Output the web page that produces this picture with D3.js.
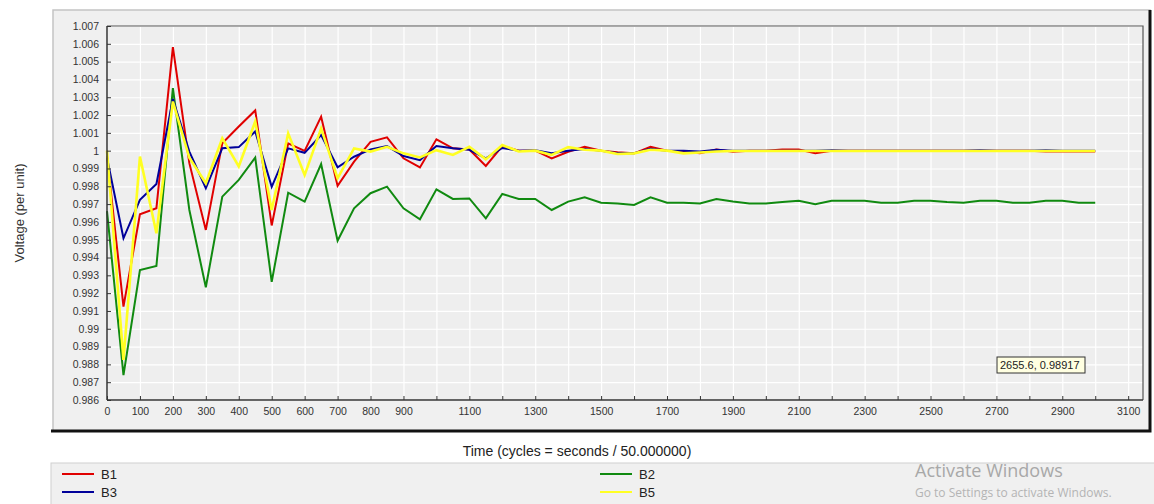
<!DOCTYPE html>
<html>
<head>
<meta charset="utf-8">
<script src="https://cdn.jsdelivr.net/npm/d3@7"></script>
<style>
  body { margin: 0; background: #fff; }
  svg { display: block; font-family: Arial, "Liberation Sans", sans-serif; }
</style>
</head>
<body>
<svg id="chart"></svg>
<script>
const width = 1154;
const height = 504;

// temps en cycles, un point tous les 50
const times = d3.range(0, 3001, 50);

// valeurs (per unit)
const b1 = [0.9997, 0.99124, 0.99643, 0.99677, 1.00581, 0.9993, 0.99555, 1.00042, 1.00136, 1.00226,
  0.99580, 1.00041, 0.99999, 1.00191, 0.99802, 0.99938, 1.00050, 1.00075, 0.99957, 0.99906,
  1.00064, 1.00013, 1.00007, 0.99914, 1.00026, 1.0, 1.0, 0.99957, 0.99994, 1.00022,
  1.0, 0.99991, 0.99985, 1.00022, 1.0, 0.99996, 0.99985, 1.00007, 0.99994, 1.0,
  1.0, 1.00007, 1.00007, 0.99985, 1.0, 1.0, 1.0, 1.0, 1.0, 1.0,
  1.0, 1.0, 1.0, 1.0, 1.0, 1.0, 1.0, 0.99996, 0.99996, 0.99996, 0.99996];

const b2 = [0.9966, 0.9874, 0.99330, 0.99353, 1.00351, 0.99667, 0.99233, 0.99742, 0.99836, 0.99961,
  0.99263, 0.99764, 0.99714, 0.99925, 0.99494, 0.99676, 0.99761, 0.99798, 0.99676, 0.99615,
  0.99783, 0.99729, 0.99732, 0.99620, 0.99757, 0.99729, 0.99729, 0.99667, 0.99714, 0.99738,
  0.99708, 0.99704, 0.99695, 0.99738, 0.99708, 0.99708, 0.99704, 0.99729, 0.99714, 0.99704,
  0.99704, 0.99712, 0.99719, 0.99699, 0.99719, 0.99719, 0.99719, 0.99708, 0.99708, 0.99719,
  0.99719, 0.99712, 0.99708, 0.99719, 0.99719, 0.99708, 0.99708, 0.99719, 0.99719, 0.99708, 0.99708];

const b3 = [0.9996, 0.99508, 0.99724, 0.99813, 1.0029, 0.99995, 0.99789, 1.00014, 1.00020, 1.00108,
  0.99797, 1.00013, 0.99988, 1.00088, 0.99907, 0.99966, 1.00007, 1.00026, 0.99970, 0.99947,
  1.00026, 1.00013, 1.00005, 0.99957, 1.00015, 1.0, 1.00002, 0.99985, 1.0, 1.00010,
  1.0, 0.99985, 0.99985, 1.00010, 1.0, 1.0, 0.99995, 1.00005, 1.0, 1.0,
  1.0, 1.0, 1.0, 1.0, 1.00003, 1.0, 1.0, 1.0, 1.0, 1.0,
  1.0, 1.0, 1.0, 1.00003, 1.0, 1.0, 1.0, 1.00003, 1.0, 1.0, 1.0];

const b5 = [1.0000, 0.98825, 0.99967, 0.99536, 1.00276, 0.9996, 0.99817, 1.00070, 0.99911, 1.00164,
  0.99667, 1.00097, 0.99863, 1.00125, 0.99845, 1.00013, 0.99995, 1.00022, 0.99985, 0.99962,
  1.00003, 0.99976, 1.00022, 0.99951, 1.00032, 0.99995, 1.0, 0.99976, 1.0002, 1.00005,
  1.0, 0.99981, 0.99985, 1.00005, 1.0, 0.99985, 0.99990, 0.99995, 0.99998, 0.99998,
  0.99998, 0.99998, 0.99998, 0.99998, 0.99998, 0.99998, 0.99998, 0.99998, 0.99998, 0.99998,
  0.99998, 0.99998, 0.99998, 0.99998, 0.99998, 0.99998, 0.99998, 0.99998, 0.99998, 0.99998, 0.99998];

const seriesNames = ["B1", "B2", "B3", "B5"];
const seriesColors = ["#e00000", "#108a10", "#00009a", "#ffff22"];
const seriesValues = [b1, b2, b3, b5];

const yTicks = d3.range(0, 22).map(i => +(0.986 + i * 0.001).toFixed(3));
const xTicks = d3.range(0, 3101, 100);

const svg = d3.select("#chart")
  .attr("width", width)
  .attr("height", height);

// panneau du graphique
const panel = { left: 53, top: 10, right: 1150, bottom: 431 };
svg.append("rect")
  .attr("x", panel.left).attr("y", panel.top)
  .attr("width", panel.right - panel.left).attr("height", panel.bottom - panel.top)
  .attr("fill", "#f0f0f0")
  .attr("stroke", "#c4c4c4")
  .attr("stroke-width", 1.5);
// ombre noire bas / droite
svg.append("path")
  .attr("d", `M${panel.left - 2},${panel.bottom} H${panel.right} V${panel.top}`)
  .attr("fill", "none")
  .attr("stroke", "#111")
  .attr("stroke-width", 3);

const plot = { left: 107, top: 26, right: 1143, bottom: 400 };

const x = d3.scaleLinear().domain([0, 3145]).range([plot.left, plot.right]);
const y = d3.scaleLinear().domain([0.986, 1.007]).range([plot.bottom, plot.top]);

svg.append("rect")
  .attr("x", plot.left).attr("y", plot.top)
  .attr("width", plot.right - plot.left).attr("height", plot.bottom - plot.top)
  .attr("fill", "#eeeeee");

// grille blanche
svg.append("g")
  .attr("transform", `translate(0,${plot.bottom})`)
  .call(d3.axisBottom(x).tickValues(xTicks).tickSize(-(plot.bottom - plot.top)).tickFormat(""))
  .call(g => g.select(".domain").remove())
  .call(g => g.selectAll("line").attr("stroke", "#ffffff").attr("stroke-width", 1.2));

svg.append("g")
  .attr("transform", `translate(${plot.left},0)`)
  .call(d3.axisLeft(y).tickValues(yTicks).tickSize(-(plot.right - plot.left)).tickFormat(""))
  .call(g => g.select(".domain").remove())
  .call(g => g.selectAll("line").attr("stroke", "#ffffff").attr("stroke-width", 1.2));

// bord haut et droit
svg.append("path")
  .attr("d", `M${plot.left},${plot.top} H${plot.right} V${plot.bottom}`)
  .attr("fill", "none")
  .attr("stroke", "#555")
  .attr("stroke-width", 1.2);

// courbes
const line = d3.line()
  .x((d, i) => x(times[i]))
  .y(d => y(d));

svg.append("g")
  .selectAll("path")
  .data(seriesValues)
  .join("path")
  .attr("d", line)
  .attr("fill", "none")
  .attr("stroke", (d, i) => seriesColors[i])
  .attr("stroke-width", (d, i) => i === 3 ? 2.6 : 2)
  .attr("stroke-linejoin", "miter");

// axes
const yAxis = svg.append("g")
  .attr("transform", `translate(${plot.left},0)`)
  .call(d3.axisLeft(y).tickValues(yTicks).tickSize(-4).tickPadding(8)
    .tickFormat(d => String(+d.toFixed(3))));

const xAxis = svg.append("g")
  .attr("transform", `translate(0,${plot.bottom})`)
  .call(d3.axisBottom(x).tickValues(xTicks).tickSize(-4).tickPadding(8)
    .tickFormat(d => (d <= 900 || (d / 100) % 2 === 1) ? d : ""));

[yAxis, xAxis].forEach(g => {
  g.select(".domain").attr("stroke", "#333").attr("stroke-width", 1.5);
  g.selectAll(".tick line").attr("stroke", "#333");
  g.selectAll(".tick text")
    .attr("fill", "#333")
    .style("font-size", "10.5px")
    .style("font-family", "Arial, 'Liberation Sans', sans-serif");
});
xAxis.select(".domain").attr("d", `M${plot.left},0H${plot.right}`);
yAxis.select(".domain").attr("d", `M0,${plot.bottom}V${plot.top}`);

// titres des axes
svg.append("text")
  .attr("transform", `translate(24,${(plot.top + plot.bottom) / 2}) rotate(-90)`)
  .attr("text-anchor", "middle")
  .attr("fill", "#333")
  .style("font-size", "13px")
  .text("Voltage (per unit)");

svg.append("text")
  .attr("x", 577)
  .attr("y", 456)
  .attr("text-anchor", "middle")
  .attr("fill", "#222")
  .style("font-size", "14px")
  .text("Time (cycles = seconds / 50.000000)");

// info-bulle de coordonnées
const tip = svg.append("g").attr("transform", "translate(997,357)");
tip.append("rect")
  .attr("width", 88).attr("height", 16)
  .attr("fill", "#ffffe1")
  .attr("stroke", "#333");
tip.append("text")
  .attr("x", 3).attr("y", 12)
  .attr("fill", "#222")
  .style("font-size", "11px")
  .text("2655.6, 0.98917");

// légende
svg.append("rect")
  .attr("x", 51).attr("y", 463)
  .attr("width", 1110).attr("height", 45)
  .attr("fill", "#f0f0f0")
  .attr("stroke", "#cfcfcf");

const legendPos = [[62, 474], [600, 474], [62, 492], [600, 492]];
const legend = svg.append("g")
  .selectAll("g")
  .data(seriesNames)
  .join("g")
  .attr("transform", (d, i) => `translate(${legendPos[i][0]},${legendPos[i][1]})`);

legend.append("line")
  .attr("x1", 0).attr("x2", 32)
  .attr("stroke", (d, i) => seriesColors[i])
  .attr("stroke-width", 2);

legend.append("text")
  .attr("x", 39).attr("y", 5)
  .attr("fill", "#222")
  .style("font-size", "13px")
  .text(d => d);

// filigrane Windows
svg.append("text")
  .attr("x", 915).attr("y", 477)
  .attr("fill", "#a8a8a8")
  .style("font-family", "'Open Sans', 'Noto Sans', sans-serif")
  .style("font-size", "18px")
  .text("Activate Windows");

svg.append("text")
  .attr("x", 915).attr("y", 497)
  .attr("fill", "#b4b4b4")
  .style("font-family", "'Open Sans', 'Noto Sans', sans-serif")
  .style("font-size", "12px")
  .text("Go to Settings to activate Windows.");
</script>
</body>
</html>
